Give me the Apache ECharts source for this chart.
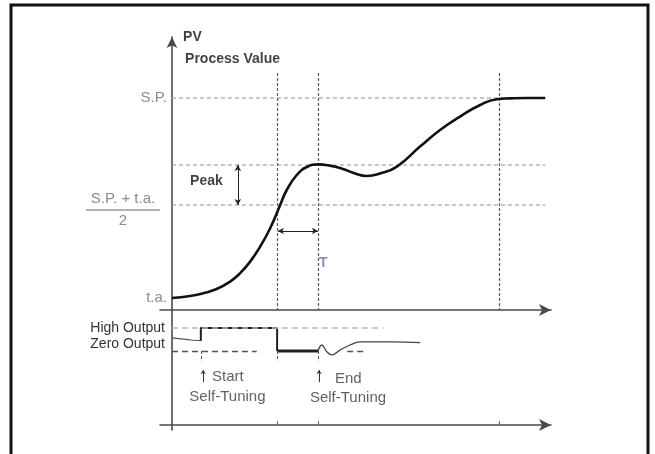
<!DOCTYPE html>
<html><head><meta charset="utf-8">
<script src="https://cdn.jsdelivr.net/npm/echarts@6/dist/echarts.min.js"></script>
<style>html,body{margin:0;padding:0;background:#fff}#c{width:655px;height:454px}</style>
</head><body><div id="c"></div>
<script>
// ---------- DATA (time in arbitrary units; PV: t.a. = 0, S.P. = 1; Output: zero = 0, high = 1) ----------
const pvTime  = [0, 0.47, 0.81, 1.16, 1.51, 1.77, 2.03, 2.29, 2.55, 2.81, 2.98, 3.24, 3.50, 3.79, 4.10, 4.40, 4.72, 5.06, 5.40, 5.84, 6.44, 6.96, 7.48, 8.0, 8.43, 8.78, 9.2, 9.69];
const pvValue = [0, 0.01, 0.024, 0.045, 0.082, 0.124, 0.182, 0.257, 0.349, 0.465, 0.54, 0.615, 0.655, 0.668, 0.662, 0.648, 0.625, 0.61, 0.622, 0.657, 0.757, 0.84, 0.907, 0.965, 0.994, 0.998, 1, 1];

const levelValues = [1, 0.665, 0.465];        // S.P., peak, (S.P.+t.a.)/2
const levelStart = 0, levelEnd = 9.69;
const eventTimes = [2.73, 3.79, 8.49];        // vertical reference lines
const eventTop = 1.125, eventBottom = -0.06;

const peakArrowTime = 1.71, peakArrowFrom = 0.465, peakArrowTo = 0.665;
const tArrowLevel = 0.335, tArrowFrom = 2.75, tArrowTo = 3.79;

const pvTickValues = [0, 0.44, 1];
const pvTickTexts  = ['t.a.', '{n|S.P. + t.a.}\n{bar| }{sp| }\n{d|2}', 'S.P.'];

const upperTextTime  = [0.29, 0.34, 0.47, 3.82];
const upperTextValue = [1.305, 1.195, 0.585, 0.175];
const upperTexts     = ['PV', 'Process Value', 'Peak', 'T'];

// lower panel: controller output
const preTime  = [0, 0.5, 0.75];
const preOut   = [0.57, 0.48, 0.45];
const highTime = [0.75, 0.75, 2.73, 2.73];
const highOut  = [0.45, 1, 1, 0];
const lowTime  = [2.73, 3.79];
const lowOut   = [0, 0];
const postTime = [3.79, 3.89, 4.02, 4.15, 4.36, 4.62, 4.88, 5.74, 6.44];
const postOut  = [0, 0.26, -0.03, -0.17, 0.04, 0.26, 0.40, 0.40, 0.36];

const highRefStart = 0, highRefEnd = 5.48;
const zeroRefSegments = [[0, 2.2], [4.55, 5.06]];
const markerTimes = [0.75, 2.73, 3.79];
const markerFrom = 0, markerTo = -0.45;

const outTickValues = [1, 0.3];
const outTickTexts  = ['High Output', 'Zero Output'];

const pointerTimes = [0.81, 3.82];
const pointerFrom = -1.35, pointerTo = -0.83;

const lowerTextTime  = [1.04, 1.44, 4.23, 4.57];
const lowerTextValue = [-1.13, -2.0, -1.22, -2.04];
const lowerTexts     = ['Start', 'Self-Tuning', 'End', 'Self-Tuning'];

// ---------- CHART ----------
const FONT = '"Liberation Sans", Arial, sans-serif';
const zip = (a, b) => a.map((v, i) => [v, b[i]]);
const nearest = (arr, v) => { let bi = 0; arr.forEach((x, i) => { if (Math.abs(x - v) < Math.abs(arr[bi] - v)) bi = i; }); return bi; };

const chart = echarts.init(document.getElementById('c'));
const axisLineStyle = { color: '#4a4a4a', width: 1.6 };

const option = {
  animation: false,
  backgroundColor: '#fff',
  graphic: [{ type: 'rect', shape: { x: 11, y: 5, width: 637, height: 470 }, style: { fill: null, stroke: '#111', lineWidth: 3 }, silent: true }],
  grid: [
    { left: 160, right: 104, top: 37, bottom: 144, outerBoundsMode: 'none', containLabel: false },
    { left: 160, right: 104, top: 310, bottom: 24, outerBoundsMode: 'none', containLabel: false }
  ],
  xAxis: [
    { gridIndex: 0, type: 'value', min: -0.31, max: 9.84,
      axisLine: { onZero: false, lineStyle: axisLineStyle, symbol: ['none', 'arrow'], symbolSize: [9, 12] },
      axisTick: { show: false }, axisLabel: { show: false }, splitLine: { show: false } },
    { gridIndex: 1, type: 'value', min: -0.31, max: 9.84, offset: -5,
      axisLine: { onZero: false, lineStyle: axisLineStyle, symbol: ['none', 'arrow'], symbolSize: [9, 12] },
      axisTick: { show: true, customValues: eventTimes, inside: true, length: 4, lineStyle: { color: '#666' } },
      axisLabel: { show: false }, splitLine: { show: false } }
  ],
  yAxis: [
    { gridIndex: 0, type: 'value', min: -0.06, max: 1.305,
      axisLine: { onZero: true, lineStyle: axisLineStyle, symbol: ['none', 'arrow'], symbolSize: [8, 11] },
      axisTick: { show: false }, splitLine: { show: false },
      axisLabel: { customValues: pvTickValues, margin: -7, color: '#8c8c8c', fontSize: 15, fontFamily: FONT,
        formatter: v => pvTickTexts[nearest(pvTickValues, v)],
        rich: {
          n: { fontSize: 15, color: '#8c8c8c', fontFamily: FONT, align: 'center', width: 74, lineHeight: 16, padding: [0, 7, 0, 0] },
          bar: { width: 74, height: 1.5, lineHeight: 6, backgroundColor: '#9a9a9a', fontSize: 2 },
          sp: { width: 7, height: 1.5, lineHeight: 6, fontSize: 2 },
          d: { fontSize: 15, color: '#8c8c8c', fontFamily: FONT, align: 'center', width: 74, lineHeight: 16, padding: [0, 7, 0, 0] }
        } } },
    { gridIndex: 1, type: 'value', min: -3.43, max: 1.78,
      axisLine: { onZero: true, lineStyle: axisLineStyle },
      axisTick: { show: false }, splitLine: { show: false },
      axisLabel: { customValues: outTickValues, margin: -5, color: '#333', fontSize: 14, fontFamily: FONT,
        formatter: v => outTickTexts[nearest(outTickValues, v)] } }
  ],
  series: [
    // reference levels (upper)
    { type: 'line', xAxisIndex: 0, yAxisIndex: 0, data: [], silent: true,
      markLine: { silent: true, symbol: 'none', label: { show: false },
        lineStyle: { color: '#b4b4b4', type: [4, 3], width: 1.6 },
        data: levelValues.map(v => [{ coord: [levelStart, v] }, { coord: [levelEnd, v] }]) } },
    { type: 'line', xAxisIndex: 0, yAxisIndex: 0, data: [], silent: true,
      markLine: { silent: true, symbol: 'none', label: { show: false },
        lineStyle: { color: '#5a5a5a', type: [3, 2], width: 1.2 },
        data: eventTimes.map(t => [{ coord: [t, eventTop] }, { coord: [t, eventBottom] }]) } },
    // process value curve
    { type: 'line', xAxisIndex: 0, yAxisIndex: 0, data: zip(pvTime, pvValue), smooth: 0.5,
      symbol: 'none', lineStyle: { color: '#111', width: 2.6 }, z: 5 },
    // arrows
    { type: 'line', xAxisIndex: 0, yAxisIndex: 0, data: [], silent: true,
      markLine: { silent: true, symbol: ['arrow', 'arrow'], symbolSize: [5, 6], label: { show: false },
        lineStyle: { color: '#222', type: 'solid', width: 1 },
        data: [
          [{ coord: [peakArrowTime, peakArrowFrom] }, { coord: [peakArrowTime, peakArrowTo] }],
          [{ coord: [tArrowFrom, tArrowLevel] }, { coord: [tArrowTo, tArrowLevel] }]
        ] } },
    // upper texts
    { type: 'scatter', xAxisIndex: 0, yAxisIndex: 0, symbolSize: 0, silent: true, clip: false,
      data: upperTexts.map((s, i) => ({ value: [upperTextTime[i], upperTextValue[i]], name: s,
        label: { show: true, position: 'right', distance: 0, formatter: '{b}', fontFamily: FONT,
          fontSize: 14, fontWeight: 'bold',
          color: s === 'T' ? '#6b7b9b' : '#111' } })) },

    // lower panel reference lines
    { type: 'line', xAxisIndex: 1, yAxisIndex: 1, data: [], silent: true,
      markLine: { silent: true, symbol: 'none', label: { show: false },
        data: [
          [{ coord: [highRefStart, 1], lineStyle: { color: '#b8b8b8', type: [6, 4], width: 1.5 } }, { coord: [highRefEnd, 1] }],
          ...zeroRefSegments.map(s => [{ coord: [s[0], 0], lineStyle: { color: '#555', type: [6, 4], width: 1.3 } }, { coord: [s[1], 0] }]),
          ...markerTimes.map(t => [{ coord: [t, markerFrom], lineStyle: { color: '#555', type: [3, 2], width: 1 } }, { coord: [t, markerTo] }])
        ] } },
    { type: 'line', xAxisIndex: 1, yAxisIndex: 1, data: zip(preTime, preOut), smooth: 0.3,
      symbol: 'none', lineStyle: { color: '#555', width: 1.1 } },
    { type: 'line', xAxisIndex: 1, yAxisIndex: 1, data: zip(highTime, highOut),
      symbol: 'none', lineStyle: { color: '#222', width: 2 }, z: 4 },
    { type: 'line', xAxisIndex: 1, yAxisIndex: 1, data: zip(lowTime, lowOut),
      symbol: 'none', lineStyle: { color: '#222', width: 3 }, z: 4 },
    { type: 'line', xAxisIndex: 1, yAxisIndex: 1, data: zip(postTime, postOut), smooth: 0.4,
      symbol: 'none', lineStyle: { color: '#444', width: 1.3 } },
    // start / end pointers
    { type: 'line', xAxisIndex: 1, yAxisIndex: 1, data: [], silent: true,
      markLine: { silent: true, symbol: ['none', 'arrow'], symbolSize: [4, 4], label: { show: false },
        lineStyle: { color: '#333', type: 'solid', width: 1 },
        data: pointerTimes.map(t => [{ coord: [t, pointerFrom] }, { coord: [t, pointerTo] }]) } },
    // lower texts
    { type: 'scatter', xAxisIndex: 1, yAxisIndex: 1, symbolSize: 0, silent: true, clip: false,
      data: lowerTexts.map((s, i) => ({ value: [lowerTextTime[i], lowerTextValue[i]], name: s,
        label: { show: true, position: s === 'Self-Tuning' ? 'inside' : 'right', distance: 0, formatter: '{b}',
          fontFamily: FONT, fontSize: 15, color: '#3a3a3a' } })) }
  ]
};
chart.setOption(option);
</script>
</body></html>
